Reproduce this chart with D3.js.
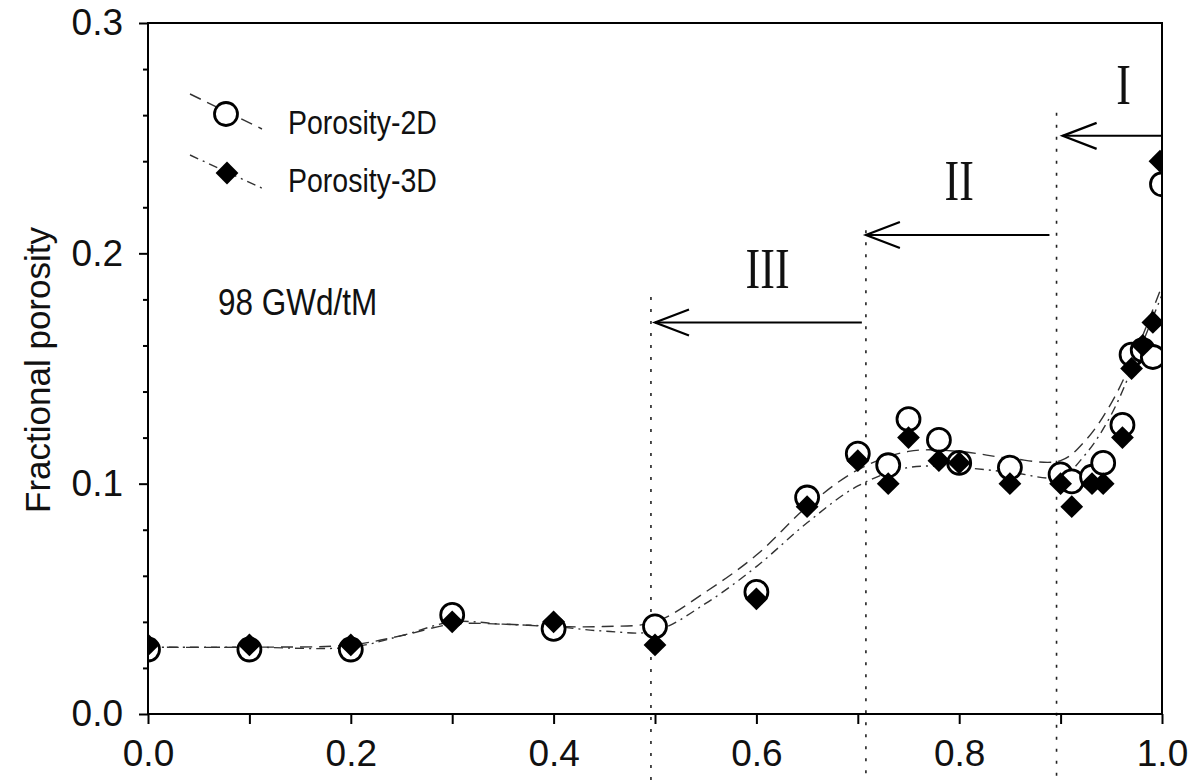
<!DOCTYPE html>
<html>
<head>
<meta charset="utf-8">
<script src="https://cdn.jsdelivr.net/npm/d3@7"></script>
<style>
  html, body { margin: 0; padding: 0; background: #fff; }
  svg { display: block; }
</style>
</head>
<body>
<svg id="chart" width="1196" height="780"></svg>
<script>
// ---------------- data ----------------
const radius2D = [0, 0.1, 0.2, 0.3, 0.4, 0.5, 0.6, 0.65, 0.7, 0.73, 0.75, 0.78, 0.8, 0.85, 0.9, 0.911, 0.931, 0.942, 0.961, 0.97, 0.981, 0.991, 1.0];
const porosity2D = [0.028, 0.028, 0.028, 0.043, 0.037, 0.038, 0.053, 0.094, 0.113, 0.108, 0.128, 0.119, 0.109, 0.107, 0.104, 0.101, 0.103, 0.109, 0.1255, 0.156, 0.158, 0.155, 0.230];
const radius3D = [0, 0.1, 0.2, 0.3, 0.4, 0.5, 0.6, 0.65, 0.7, 0.73, 0.75, 0.78, 0.8, 0.85, 0.9, 0.911, 0.931, 0.942, 0.961, 0.97, 0.981, 0.991, 0.998];
const porosity3D = [0.030, 0.030, 0.030, 0.040, 0.040, 0.030, 0.050, 0.090, 0.110, 0.100, 0.120, 0.110, 0.109, 0.100, 0.100, 0.090, 0.100, 0.100, 0.120, 0.150, 0.160, 0.170, 0.240];

const fitRadius = [0, 0.1, 0.2, 0.25, 0.3, 0.35, 0.4, 0.45, 0.5, 0.55, 0.6, 0.65, 0.7, 0.75, 0.8, 0.85, 0.9, 0.925, 0.95, 0.975, 1.0];
const fit2D = [0.029, 0.029, 0.030, 0.034, 0.039, 0.039, 0.038, 0.038, 0.040, 0.053, 0.069, 0.090, 0.106, 0.114, 0.114, 0.111, 0.110, 0.119, 0.135, 0.158, 0.186];
const fit3D = [0.029, 0.029, 0.029, 0.034, 0.040, 0.039, 0.038, 0.036, 0.036, 0.048, 0.064, 0.083, 0.099, 0.107, 0.107, 0.105, 0.103, 0.113, 0.130, 0.155, 0.182];

const xTicks = [0, 0.1, 0.2, 0.3, 0.4, 0.5, 0.6, 0.7, 0.8, 0.9, 1.0];
const xTickLabels = ["0.0", "", "0.2", "", "0.4", "", "0.6", "", "0.8", "", "1.0"];
const yMajorTicks = [0, 0.1, 0.2, 0.3];
const yTickLabels = ["0.0", "0.1", "0.2", "0.3"];
const yMinorTicks = [0.02, 0.04, 0.06, 0.08, 0.12, 0.14, 0.16, 0.18, 0.22, 0.24, 0.26, 0.28];

const regionBounds = [0.496, 0.708, 0.896];     // dotted boundaries
const regionBoundTops = [0.181, 0.210, 0.261];  // where the dotted lines start
const regionNames = ["III", "II", "I"];
const arrowFrom = [0.704, 0.889, 1.0];
const arrowTo = [0.500, 0.708, 0.902];
const arrowLevel = [0.170, 0.208, 0.251];
const labelX = [0.611, 0.800, 0.962];
const labelY = [0.193, 0.231, 0.273];

const seriesNames = ["Porosity-2D", "Porosity-3D"];
const burnupLabel = "98 GWd/tM";
const yTitle = "Fractional porosity";

// ---------------- layout ----------------
const SANS = "'Liberation Sans', Arial, sans-serif";
const SERIF = "'Liberation Serif', 'Times New Roman', serif";
const svg = d3.select("#chart");
const pL = 148, pR = 1162, pT = 23, pB = 714;
const x = d3.scaleLinear().domain([0, 1]).range([pL, pR]);
const y = d3.scaleLinear().domain([0, 0.3]).range([pB, pT]);

svg.append("defs").append("clipPath").attr("id", "plotclip")
  .append("rect").attr("x", pL).attr("y", pT).attr("width", pR - pL).attr("height", pB - pT);

// stretched text helper (the original figure is vertically stretched)
function stext(parent, tx, ty, str, size, sy, family, anchor) {
  return parent.append("text")
    .attr("transform", `translate(${tx},${ty}) scale(1,${sy})`)
    .attr("text-anchor", anchor || "start")
    .style("font-family", family || SANS)
    .style("font-size", size + "px")
    .style("fill", "#111")
    .text(str);
}

// dotted region boundaries (extend below axis)
regionBounds.forEach((b, i) => {
  svg.append("line")
    .attr("x1", x(b)).attr("x2", x(b))
    .attr("y1", y(regionBoundTops[i])).attr("y2", 780)
    .attr("stroke", "#222").attr("stroke-width", 1.6)
    .attr("stroke-dasharray", "3,9");
});

// fitted curves
const g = svg.append("g").attr("clip-path", "url(#plotclip)");
const lineGen = d3.line().x(d => x(d[0])).y(d => y(d[1])).curve(d3.curveCatmullRom.alpha(0.5));
g.append("path").datum(fitRadius.map((r, i) => [r, fit2D[i]]))
  .attr("d", lineGen).attr("fill", "none").attr("stroke", "#333").attr("stroke-width", 1.4)
  .attr("stroke-dasharray", "12,7");
g.append("path").datum(fitRadius.map((r, i) => [r, fit3D[i]]))
  .attr("d", lineGen).attr("fill", "none").attr("stroke", "#333").attr("stroke-width", 1.4)
  .attr("stroke-dasharray", "9,5,2,5");

// markers
const circleR = 11.5;
const diamond = d3.symbol().type(d3.symbolSquare).size(260);
g.selectAll("circle.p2d").data(radius2D.map((r, i) => [r, porosity2D[i]])).join("circle")
  .attr("class", "p2d").attr("cx", d => x(d[0])).attr("cy", d => y(d[1])).attr("r", circleR)
  .attr("fill", "#fff").attr("stroke", "#000").attr("stroke-width", 2.8);
g.selectAll("path.p3d").data(radius3D.map((r, i) => [r, porosity3D[i]])).join("path")
  .attr("class", "p3d").attr("d", diamond)
  .attr("transform", d => `translate(${x(d[0])},${y(d[1])}) rotate(45)`)
  .attr("fill", "#000");

// frame
svg.append("rect").attr("x", pL).attr("y", pT).attr("width", pR - pL).attr("height", pB - pT)
  .attr("fill", "none").attr("stroke", "#000").attr("stroke-width", 2);

// x axis
const xAxis = d3.axisBottom(x).tickValues(xTicks).tickSize(10).tickPadding(16)
  .tickFormat((d, i) => xTickLabels[i]);
const xa = svg.append("g").attr("transform", `translate(0,${pB})`).call(xAxis);
xa.select(".domain").remove();
xa.selectAll(".tick line").attr("stroke", "#000").attr("stroke-width", 2);
xa.selectAll(".tick text").style("font-size", "37px").style("font-family", SANS).style("fill", "#111");

// y axis
const yAxis = d3.axisLeft(y).tickValues(yMajorTicks).tickSize(9).tickPadding(16)
  .tickFormat((d, i) => yTickLabels[i]);
const ya = svg.append("g").attr("transform", `translate(${pL},0)`).call(yAxis);
ya.select(".domain").remove();
ya.selectAll(".tick line").attr("stroke", "#000").attr("stroke-width", 2);
ya.selectAll(".tick text").style("font-size", "37px").style("font-family", SANS).style("fill", "#111");
const yMinor = d3.axisLeft(y).tickValues(yMinorTicks).tickSize(5).tickFormat("");
const ym = svg.append("g").attr("transform", `translate(${pL},0)`).call(yMinor);
ym.select(".domain").remove();
ym.selectAll(".tick line").attr("stroke", "#000").attr("stroke-width", 2);

// y title
svg.append("text")
  .attr("transform", `translate(50,370) rotate(-90)`)
  .attr("text-anchor", "middle")
  .style("font-family", SANS).style("font-size", "35px").style("fill", "#111")
  .text(yTitle);

// arrows and region labels
regionNames.forEach((name, i) => {
  const y0 = y(arrowLevel[i]);
  const x0 = x(arrowFrom[i]), x1 = x(arrowTo[i]);
  svg.append("line").attr("x1", x0).attr("x2", x1).attr("y1", y0).attr("y2", y0)
    .attr("stroke", "#000").attr("stroke-width", 2);
  svg.append("path")
    .attr("d", `M${x1 + 34},${y0 - 13} L${x1},${y0} L${x1 + 34},${y0 + 13}`)
    .attr("fill", "none").attr("stroke", "#000").attr("stroke-width", 2.2);
  // baseline placed so that the cap centre sits at labelY
  stext(svg, x(labelX[i]), y(labelY[i]) + 18.5, name, 44, 1.3, SERIF, "middle");
});

// legend
const legend = svg.append("g");
legend.append("line").attr("x1", 190).attr("y1", 94).attr("x2", 262).attr("y2", 129)
  .attr("stroke", "#333").attr("stroke-width", 1.4).attr("stroke-dasharray", "12,7");
legend.append("circle").attr("cx", 226).attr("cy", 114).attr("r", circleR)
  .attr("fill", "#fff").attr("stroke", "#000").attr("stroke-width", 2.8);
legend.append("line").attr("x1", 190).attr("y1", 155).attr("x2", 266).attr("y2", 190)
  .attr("stroke", "#333").attr("stroke-width", 1.4).attr("stroke-dasharray", "9,5,2,5");
legend.append("path").attr("d", diamond).attr("transform", "translate(227,173) rotate(45)").attr("fill", "#000");
stext(legend, 288, 134, seriesNames[0], 28.5, 1.18);
stext(legend, 288, 192, seriesNames[1], 28.5, 1.18);

// burnup label
stext(svg, 218, 315, burnupLabel, 31.5, 1.15);
</script>
</body>
</html>
